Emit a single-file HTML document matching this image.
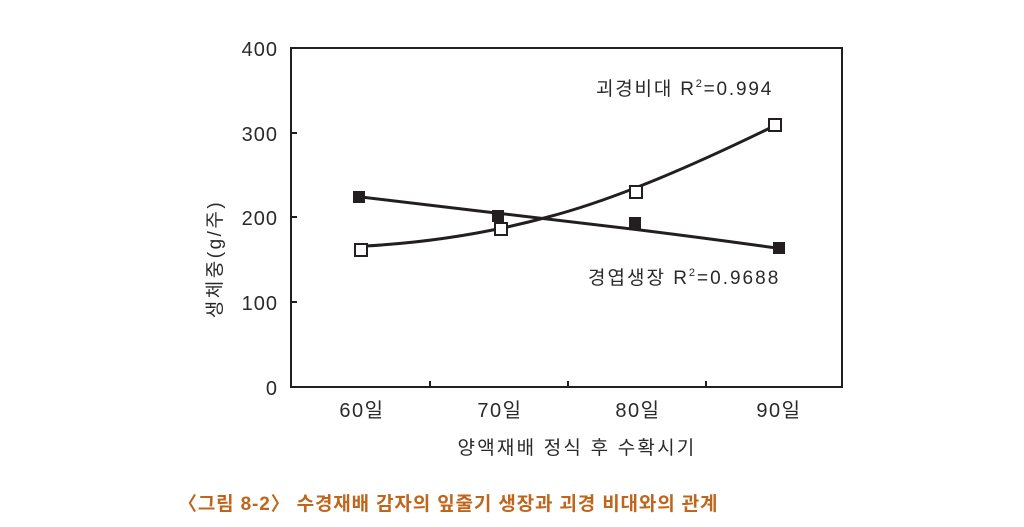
<!DOCTYPE html>
<html><head><meta charset="utf-8"><style>
html,body{margin:0;padding:0;background:#fff;}
svg{display:block;}
text{font-family:"Liberation Sans","Noto Sans CJK KR",sans-serif;fill:#2a2a2a;}
</style></head><body>
<svg width="1024" height="527" viewBox="0 0 1024 527" xmlns="http://www.w3.org/2000/svg">
<rect x="291" y="48" width="551" height="339" fill="none" stroke="#231f20" stroke-width="2"/>
<g stroke="#231f20" stroke-width="2">
<line x1="291" y1="133" x2="297" y2="133"/><line x1="291" y1="217" x2="297" y2="217"/><line x1="291" y1="302" x2="297" y2="302"/>
<line x1="430" y1="387" x2="430" y2="381"/><line x1="568" y1="387" x2="568" y2="381"/><line x1="706" y1="387" x2="706" y2="381"/>
</g>
<g font-size="20" text-anchor="end" letter-spacing="1">
<text x="278" y="56">400</text><text x="278" y="141">300</text><text x="278" y="225">200</text><text x="278" y="310">100</text><text x="278" y="395">0</text>
</g>
<g font-size="20" text-anchor="middle" letter-spacing="1.5">
<text x="362" y="417">60일</text><text x="500" y="417">70일</text><text x="638" y="417">80일</text><text x="779" y="417">90일</text>
<text x="577" y="454" font-size="19" letter-spacing="2.2">양액재배 정식 후 수확시기</text>
</g>
<text transform="translate(221,259) rotate(-90)" font-size="19" text-anchor="middle" letter-spacing="2.5">생체중(g/주)</text>
<path d="M361,197 C450,208 560,220 640,230 S740,243 776,248" fill="none" stroke="#231f20" stroke-width="3"/>
<path d="M365,246 C440,242 500,230 548,217 C620,198 700,162 770,128" fill="none" stroke="#231f20" stroke-width="3"/>
<g fill="#231f20">
<rect x="353" y="191" width="12" height="12"/><rect x="492" y="210" width="12" height="12"/><rect x="629" y="217" width="12" height="12"/><rect x="773" y="242" width="12" height="12"/>
</g>
<g fill="#fff" stroke="#231f20" stroke-width="2">
<rect x="355" y="244" width="12" height="12"/><rect x="495" y="223" width="12" height="12"/><rect x="630" y="186" width="12" height="12"/><rect x="769" y="119" width="12" height="12"/>
</g>
<text x="596" y="95" font-size="19" letter-spacing="1.8">괴경비대 R<tspan font-size="11" dy="-8">2</tspan><tspan dy="8">=0.994</tspan></text>
<text x="588" y="284" font-size="19" letter-spacing="2">경엽생장 R<tspan font-size="11" dy="-8">2</tspan><tspan dy="8">=0.9688</tspan></text>
<text x="178" y="510" font-size="19" font-weight="bold" letter-spacing="0.85" style="fill:#c0661c">〈그림 8-2〉 수경재배 감자의 잎줄기 생장과 괴경 비대와의 관계</text>
</svg>
</body></html>
